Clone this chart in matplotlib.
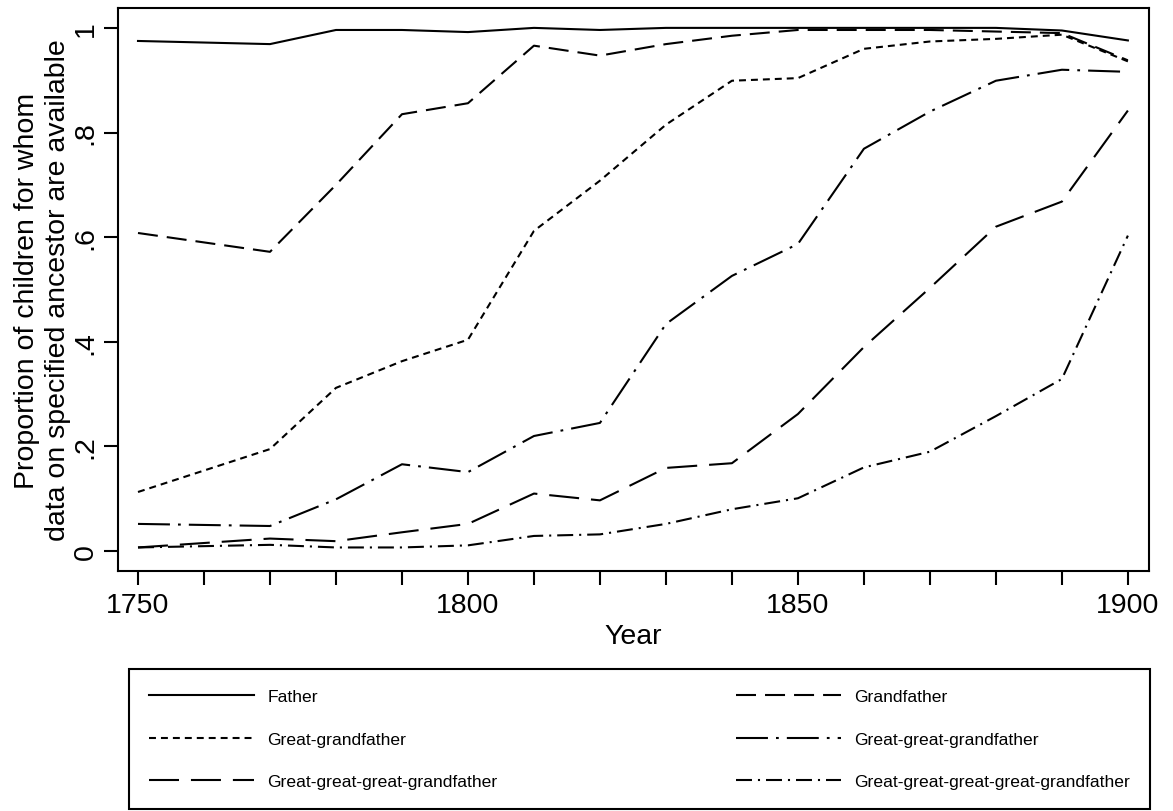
import matplotlib
matplotlib.use("Agg")
import matplotlib.pyplot as plt

plt.rcParams['font.family'] = ['Liberation Sans', 'DejaVu Sans']
plt.rcParams['lines.scale_dashes'] = False

# data
years = [1750, 1770, 1780, 1790, 1800, 1810, 1820, 1830, 1840, 1850,
         1860, 1870, 1880, 1890, 1900]
father = [0.975, 0.969, 0.996, 0.996, 0.992, 1.0, 0.996, 1.0, 1.0, 1.0,
          1.0, 1.0, 1.0, 0.995, 0.976]
grandfather = [0.608, 0.572, 0.70, 0.835, 0.856, 0.966, 0.947, 0.969, 0.985, 0.996,
               0.996, 0.996, 0.993, 0.99, 0.938]
great_gf = [0.113, 0.195, 0.312, 0.363, 0.404, 0.612, 0.708, 0.815, 0.899, 0.904,
            0.96, 0.974, 0.979, 0.987, 0.936]
gg_gf = [0.052, 0.048, 0.099, 0.166, 0.151, 0.22, 0.245, 0.434, 0.526, 0.587,
         0.769, 0.84, 0.899, 0.92, 0.916]
ggg_gf = [0.007, 0.024, 0.019, 0.036, 0.052, 0.11, 0.097, 0.159, 0.168, 0.262,
          0.39, 0.503, 0.62, 0.668, 0.842]
gggg_gf = [0.007, 0.012, 0.007, 0.007, 0.011, 0.029, 0.032, 0.052, 0.08, 0.101,
           0.16, 0.19, 0.258, 0.329, 0.603]

labels = ["Father", "Grandfather", "Great-grandfather", "Great-great-grandfather",
          "Great-great-great-grandfather", "Great-great-great-great-grandfather"]
series = [father, grandfather, great_gf, gg_gf, ggg_gf, gggg_gf]
dashes = [(None, None), (14.4, 6.5), (5, 3.6), (23, 5.8, 2, 5.8),
          (21.6, 8.6), (11.5, 4.3, 1.5, 4.3)]

xticks = list(range(1750, 1901, 10))
xticklabels = [str(t) if t % 50 == 0 else "" for t in xticks]
yticks = [0, 0.2, 0.4, 0.6, 0.8, 1.0]
yticklabels = ["0", ".2", ".4", ".6", ".8", "1"]

fig = plt.figure(figsize=(11.73, 8.12), dpi=100)
ax = fig.add_axes([118 / 1173, 1 - 572 / 812, (1149 - 118) / 1173, (572 - 9) / 812])

for vals, lab, d in zip(series, labels, dashes):
    line, = ax.plot(years, vals, color='black', lw=1.5, label=lab)
    if d[0] is not None:
        line.set_dashes(d)

ax.set_xlim(1746.97, 1903.2)
ax.set_ylim(-0.038, 1.038)
ax.set_xticks(xticks)
ax.set_xticklabels(xticklabels)
ax.set_yticks(yticks)
ax.set_yticklabels(yticklabels, rotation=90, va='center')
ax.tick_params(axis='both', direction='out', length=10, width=1.5,
               labelsize=20.5, color='black')
ax.tick_params(axis='x', pad=5)
ax.tick_params(axis='y', pad=4)
for s in ax.spines.values():
    s.set_linewidth(1.5)
    s.set_color('black')

ax.set_xlabel("Year", fontsize=20.5, labelpad=4)
ax.set_ylabel("Proportion of children for whom\ndata on specified ancestor are available",
              fontsize=20.5, labelpad=1, linespacing=1.25)

handles, labs = ax.get_legend_handles_labels()
# reorder so that ncol=2 fills rows left to right
order = [0, 2, 4, 1, 3, 5]
leg = fig.legend([handles[i] for i in order], [labs[i] for i in order],
                 loc='upper left', ncol=2, mode='expand',
                 bbox_to_anchor=(129 / 1173, 1 - 670 / 812, (1150 - 129) / 1173, 0),
                 fontsize=12.6, frameon=True, fancybox=False, framealpha=1,
                 edgecolor='black', handlelength=6.0, handletextpad=0.75,
                 labelspacing=1.55, borderpad=1.15, borderaxespad=0)
leg.get_frame().set_linewidth(1.5)

fig.savefig("out.png", dpi=100)
